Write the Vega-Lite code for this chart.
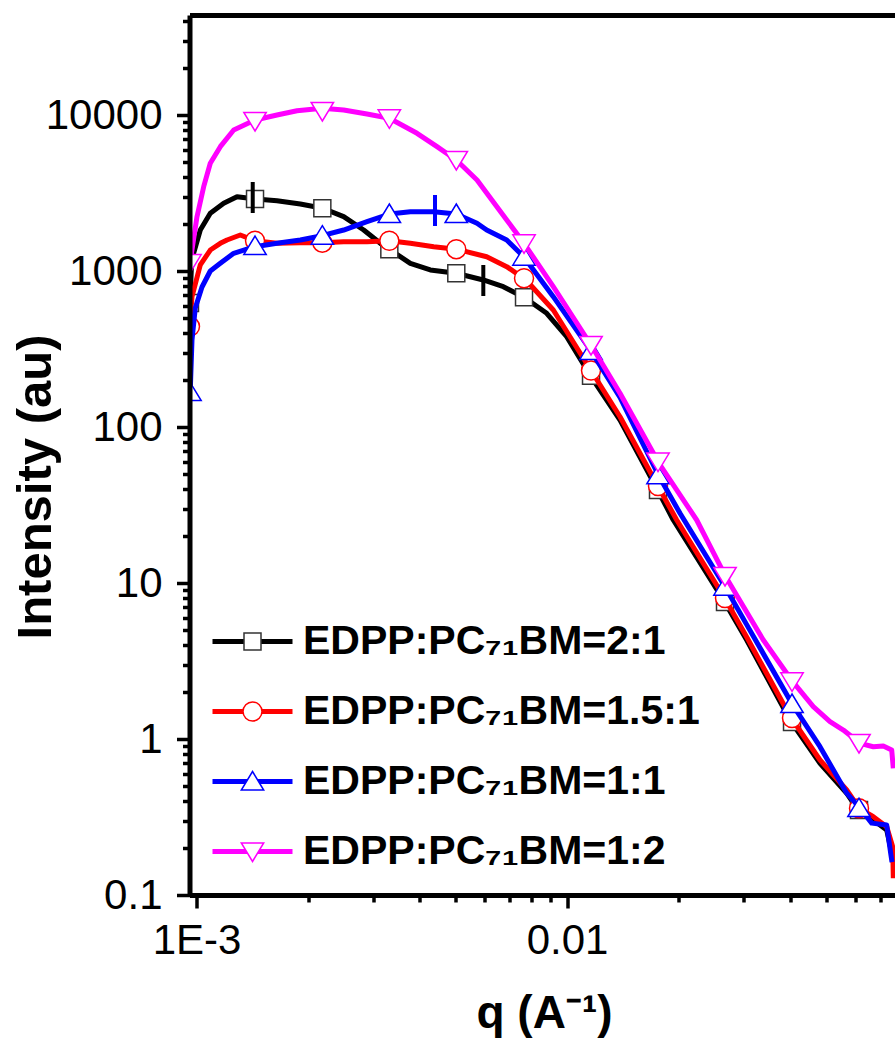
{
  "$schema": "https://vega.github.io/schema/vega-lite/v6.json",
  "width": 705.5,
  "height": 880,
  "autosize": {"type": "none"},
  "padding": {"left": 189.5, "top": 15, "right": 0, "bottom": 145},
  "background": "white",
  "config": {"view": {"stroke": null}},
  "resolve": {"axis": {"x": "independent", "y": "independent"}},
  "datasets": {
    "curves": [
      {"series": "EDPP:PC₇₁BM=2:1", "q": 0.0009598, "I": 623.6},
      {"series": "EDPP:PC₇₁BM=2:1", "q": 0.00097, "I": 1176},
      {"series": "EDPP:PC₇₁BM=2:1", "q": 0.0010233, "I": 1831},
      {"series": "EDPP:PC₇₁BM=2:1", "q": 0.0010889, "I": 2344},
      {"series": "EDPP:PC₇₁BM=2:1", "q": 0.0011836, "I": 2716},
      {"series": "EDPP:PC₇₁BM=2:1", "q": 0.0012855, "I": 2994},
      {"series": "EDPP:PC₇₁BM=2:1", "q": 0.0014441, "I": 2894},
      {"series": "EDPP:PC₇₁BM=2:1", "q": 0.0016482, "I": 2822},
      {"series": "EDPP:PC₇₁BM=2:1", "q": 0.0019051, "I": 2688},
      {"series": "EDPP:PC₇₁BM=2:1", "q": 0.0021902, "I": 2523},
      {"series": "EDPP:PC₇₁BM=2:1", "q": 0.0024945, "I": 2229},
      {"series": "EDPP:PC₇₁BM=2:1", "q": 0.002825, "I": 1831},
      {"series": "EDPP:PC₇₁BM=2:1", "q": 0.0031331, "I": 1505},
      {"series": "EDPP:PC₇₁BM=2:1", "q": 0.0033129, "I": 1378},
      {"series": "EDPP:PC₇₁BM=2:1", "q": 0.0037747, "I": 1120},
      {"series": "EDPP:PC₇₁BM=2:1", "q": 0.0042738, "I": 1015},
      {"series": "EDPP:PC₇₁BM=2:1", "q": 0.0050228, "I": 966.7},
      {"series": "EDPP:PC₇₁BM=2:1", "q": 0.005941, "I": 875.8},
      {"series": "EDPP:PC₇₁BM=2:1", "q": 0.0067283, "I": 793.1},
      {"series": "EDPP:PC₇₁BM=2:1", "q": 0.0076512, "I": 678.4},
      {"series": "EDPP:PC₇₁BM=2:1", "q": 0.00881, "I": 535.6},
      {"series": "EDPP:PC₇₁BM=2:1", "q": 0.0099752, "I": 379.2},
      {"series": "EDPP:PC₇₁BM=2:1", "q": 0.011531, "I": 215.4},
      {"series": "EDPP:PC₇₁BM=2:1", "q": 0.013895, "I": 110.9},
      {"series": "EDPP:PC₇₁BM=2:1", "q": 0.017452, "I": 40.47},
      {"series": "EDPP:PC₇₁BM=2:1", "q": 0.01935, "I": 25.34},
      {"series": "EDPP:PC₇₁BM=2:1", "q": 0.026516, "I": 7.665},
      {"series": "EDPP:PC₇₁BM=2:1", "q": 0.03053, "I": 4.311},
      {"series": "EDPP:PC₇₁BM=2:1", "q": 0.039963, "I": 1.324},
      {"series": "EDPP:PC₇₁BM=2:1", "q": 0.048145, "I": 0.6985},
      {"series": "EDPP:PC₇₁BM=2:1", "q": 0.056849, "I": 0.4486},
      {"series": "EDPP:PC₇₁BM=2:1", "q": 0.06109, "I": 0.3506},
      {"series": "EDPP:PC₇₁BM=2:1", "q": 0.067063, "I": 0.3025},
      {"series": "EDPP:PC₇₁BM=2:1", "q": 0.072884, "I": 0.261},
      {"series": "EDPP:PC₇₁BM=2:1", "q": 0.075185, "I": 0.1858},
      {"series": "EDPP:PC₇₁BM=2:1", "q": 0.075794, "I": 0.1627},

      {"series": "EDPP:PC₇₁BM=1.5:1", "q": 0.0009616, "I": 497.7},
      {"series": "EDPP:PC₇₁BM=1.5:1", "q": 0.0009718, "I": 684.4},
      {"series": "EDPP:PC₇₁BM=1.5:1", "q": 0.0009822, "I": 755.2},
      {"series": "EDPP:PC₇₁BM=1.5:1", "q": 0.0010233, "I": 1093},
      {"series": "EDPP:PC₇₁BM=1.5:1", "q": 0.0010889, "I": 1363},
      {"series": "EDPP:PC₇₁BM=1.5:1", "q": 0.0011588, "I": 1505},
      {"series": "EDPP:PC₇₁BM=1.5:1", "q": 0.0012081, "I": 1580},
      {"series": "EDPP:PC₇₁BM=1.5:1", "q": 0.0013121, "I": 1701},
      {"series": "EDPP:PC₇₁BM=1.5:1", "q": 0.0014352, "I": 1564},
      {"series": "EDPP:PC₇₁BM=1.5:1", "q": 0.0016482, "I": 1505},
      {"series": "EDPP:PC₇₁BM=1.5:1", "q": 0.0019051, "I": 1519},
      {"series": "EDPP:PC₇₁BM=1.5:1", "q": 0.0021807, "I": 1519},
      {"series": "EDPP:PC₇₁BM=1.5:1", "q": 0.0024945, "I": 1541},
      {"series": "EDPP:PC₇₁BM=1.5:1", "q": 0.0028836, "I": 1541},
      {"series": "EDPP:PC₇₁BM=1.5:1", "q": 0.0033129, "I": 1564},
      {"series": "EDPP:PC₇₁BM=1.5:1", "q": 0.0037747, "I": 1505},
      {"series": "EDPP:PC₇₁BM=1.5:1", "q": 0.0043651, "I": 1431},
      {"series": "EDPP:PC₇₁BM=1.5:1", "q": 0.0050228, "I": 1380},
      {"series": "EDPP:PC₇₁BM=1.5:1", "q": 0.0060679, "I": 1235},
      {"series": "EDPP:PC₇₁BM=1.5:1", "q": 0.0068719, "I": 1066},
      {"series": "EDPP:PC₇₁BM=1.5:1", "q": 0.0077469, "I": 875.8},
      {"series": "EDPP:PC₇₁BM=1.5:1", "q": 0.009178, "I": 562.3},
      {"series": "EDPP:PC₇₁BM=1.5:1", "q": 0.011581, "I": 231.9},
      {"series": "EDPP:PC₇₁BM=1.5:1", "q": 0.013895, "I": 116.4},
      {"series": "EDPP:PC₇₁BM=1.5:1", "q": 0.017517, "I": 42.48},
      {"series": "EDPP:PC₇₁BM=1.5:1", "q": 0.019763, "I": 25.34},
      {"series": "EDPP:PC₇₁BM=1.5:1", "q": 0.026516, "I": 8.132},
      {"series": "EDPP:PC₇₁BM=1.5:1", "q": 0.03053, "I": 4.506},
      {"series": "EDPP:PC₇₁BM=1.5:1", "q": 0.039963, "I": 1.404},
      {"series": "EDPP:PC₇₁BM=1.5:1", "q": 0.048145, "I": 0.7334},
      {"series": "EDPP:PC₇₁BM=1.5:1", "q": 0.056849, "I": 0.471},
      {"series": "EDPP:PC₇₁BM=1.5:1", "q": 0.06147, "I": 0.3595},
      {"series": "EDPP:PC₇₁BM=1.5:1", "q": 0.067063, "I": 0.3176},
      {"series": "EDPP:PC₇₁BM=1.5:1", "q": 0.072884, "I": 0.2741},
      {"series": "EDPP:PC₇₁BM=1.5:1", "q": 0.075653, "I": 0.204},
      {"series": "EDPP:PC₇₁BM=1.5:1", "q": 0.075935, "I": 0.128},

      {"series": "EDPP:PC₇₁BM=1:1", "q": 0.0009616, "I": 172.7},
      {"series": "EDPP:PC₇₁BM=1:1", "q": 0.0009718, "I": 361.1},
      {"series": "EDPP:PC₇₁BM=1:1", "q": 0.0009919, "I": 579.1},
      {"series": "EDPP:PC₇₁BM=1:1", "q": 0.0010341, "I": 789.4},
      {"series": "EDPP:PC₇₁BM=1:1", "q": 0.0010889, "I": 1000},
      {"series": "EDPP:PC₇₁BM=1:1", "q": 0.0011588, "I": 1120},
      {"series": "EDPP:PC₇₁BM=1:1", "q": 0.0012594, "I": 1299},
      {"series": "EDPP:PC₇₁BM=1:1", "q": 0.0014352, "I": 1431},
      {"series": "EDPP:PC₇₁BM=1:1", "q": 0.0016482, "I": 1505},
      {"series": "EDPP:PC₇₁BM=1:1", "q": 0.0019051, "I": 1580},
      {"series": "EDPP:PC₇₁BM=1:1", "q": 0.0021807, "I": 1684},
      {"series": "EDPP:PC₇₁BM=1:1", "q": 0.0024945, "I": 1831},
      {"series": "EDPP:PC₇₁BM=1:1", "q": 0.0028836, "I": 2070},
      {"series": "EDPP:PC₇₁BM=1:1", "q": 0.0033129, "I": 2319},
      {"series": "EDPP:PC₇₁BM=1:1", "q": 0.0037747, "I": 2399},
      {"series": "EDPP:PC₇₁BM=1:1", "q": 0.0043651, "I": 2399},
      {"series": "EDPP:PC₇₁BM=1:1", "q": 0.0050228, "I": 2319},
      {"series": "EDPP:PC₇₁BM=1:1", "q": 0.0057129, "I": 2022},
      {"series": "EDPP:PC₇₁BM=1:1", "q": 0.0060679, "I": 1831},
      {"series": "EDPP:PC₇₁BM=1:1", "q": 0.0068719, "I": 1580},
      {"series": "EDPP:PC₇₁BM=1:1", "q": 0.007637, "I": 1235},
      {"series": "EDPP:PC₇₁BM=1:1", "q": 0.009178, "I": 684.4},
      {"series": "EDPP:PC₇₁BM=1:1", "q": 0.011603, "I": 307.4},
      {"series": "EDPP:PC₇₁BM=1:1", "q": 0.013895, "I": 154.6},
      {"series": "EDPP:PC₇₁BM=1:1", "q": 0.017626, "I": 49.24},
      {"series": "EDPP:PC₇₁BM=1:1", "q": 0.020172, "I": 27.98},
      {"series": "EDPP:PC₇₁BM=1:1", "q": 0.026681, "I": 9.469},
      {"series": "EDPP:PC₇₁BM=1:1", "q": 0.03053, "I": 5.41},
      {"series": "EDPP:PC₇₁BM=1:1", "q": 0.040639, "I": 1.652},
      {"series": "EDPP:PC₇₁BM=1:1", "q": 0.048145, "I": 0.8925},
      {"series": "EDPP:PC₇₁BM=1:1", "q": 0.056849, "I": 0.4498},
      {"series": "EDPP:PC₇₁BM=1:1", "q": 0.061738, "I": 0.3606},
      {"series": "EDPP:PC₇₁BM=1:1", "q": 0.0664, "I": 0.2889},
      {"series": "EDPP:PC₇₁BM=1:1", "q": 0.072884, "I": 0.281},
      {"series": "EDPP:PC₇₁BM=1:1", "q": 0.07472, "I": 0.185},
      {"series": "EDPP:PC₇₁BM=1:1", "q": 0.075325, "I": 0.1627},

      {"series": "EDPP:PC₇₁BM=1:2", "q": 0.0009598, "I": 1125},
      {"series": "EDPP:PC₇₁BM=1:2", "q": 0.0010025, "I": 2229},
      {"series": "EDPP:PC₇₁BM=1:2", "q": 0.0010451, "I": 3471},
      {"series": "EDPP:PC₇₁BM=1:2", "q": 0.0010889, "I": 4902},
      {"series": "EDPP:PC₇₁BM=1:2", "q": 0.0011588, "I": 6265},
      {"series": "EDPP:PC₇₁BM=1:2", "q": 0.0012594, "I": 8012},
      {"series": "EDPP:PC₇₁BM=1:2", "q": 0.0014379, "I": 9289},
      {"series": "EDPP:PC₇₁BM=1:2", "q": 0.0016482, "I": 10000},
      {"series": "EDPP:PC₇₁BM=1:2", "q": 0.0018664, "I": 10655},
      {"series": "EDPP:PC₇₁BM=1:2", "q": 0.0021848, "I": 11040},
      {"series": "EDPP:PC₇₁BM=1:2", "q": 0.0024945, "I": 10766},
      {"series": "EDPP:PC₇₁BM=1:2", "q": 0.0028836, "I": 10149},
      {"series": "EDPP:PC₇₁BM=1:2", "q": 0.0033129, "I": 9524},
      {"series": "EDPP:PC₇₁BM=1:2", "q": 0.0039352, "I": 7633},
      {"series": "EDPP:PC₇₁BM=1:2", "q": 0.0044555, "I": 6265},
      {"series": "EDPP:PC₇₁BM=1:2", "q": 0.0050228, "I": 5146},
      {"series": "EDPP:PC₇₁BM=1:2", "q": 0.0057129, "I": 3831},
      {"series": "EDPP:PC₇₁BM=1:2", "q": 0.0068719, "I": 2123},
      {"series": "EDPP:PC₇₁BM=1:2", "q": 0.0076512, "I": 1505},
      {"series": "EDPP:PC₇₁BM=1:2", "q": 0.009178, "I": 793.1},
      {"series": "EDPP:PC₇₁BM=1:2", "q": 0.011603, "I": 335.5},
      {"series": "EDPP:PC₇₁BM=1:2", "q": 0.013895, "I": 164.4},
      {"series": "EDPP:PC₇₁BM=1:2", "q": 0.017703, "I": 58.54},
      {"series": "EDPP:PC₇₁BM=1:2", "q": 0.022375, "I": 25.34},
      {"series": "EDPP:PC₇₁BM=1:2", "q": 0.026798, "I": 10.97},
      {"series": "EDPP:PC₇₁BM=1:2", "q": 0.033848, "I": 4.311},
      {"series": "EDPP:PC₇₁BM=1:2", "q": 0.040639, "I": 2.33},
      {"series": "EDPP:PC₇₁BM=1:2", "q": 0.046183, "I": 1.611},
      {"series": "EDPP:PC₇₁BM=1:2", "q": 0.051232, "I": 1.291},
      {"series": "EDPP:PC₇₁BM=1:2", "q": 0.05566, "I": 1.142},
      {"series": "EDPP:PC₇₁BM=1:2", "q": 0.061738, "I": 0.9384},
      {"series": "EDPP:PC₇₁BM=1:2", "q": 0.067063, "I": 0.8925},
      {"series": "EDPP:PC₇₁BM=1:2", "q": 0.07136, "I": 0.9018},
      {"series": "EDPP:PC₇₁BM=1:2", "q": 0.075185, "I": 0.85},
      {"series": "EDPP:PC₇₁BM=1:2", "q": 0.075935, "I": 0.649}
    ],
    "markers": [
      {"ratio": "2:1", "q": 0.0009598, "I": 623.6},
      {"ratio": "2:1", "q": 0.0014379, "I": 2894},
      {"ratio": "2:1", "q": 0.0021848, "I": 2523},
      {"ratio": "2:1", "q": 0.0033129, "I": 1378},
      {"ratio": "2:1", "q": 0.0050228, "I": 966.7},
      {"ratio": "2:1", "q": 0.0076512, "I": 678.4},
      {"ratio": "2:1", "q": 0.011603, "I": 213},
      {"ratio": "2:1", "q": 0.017593, "I": 39.5},
      {"ratio": "2:1", "q": 0.026681, "I": 7.55},
      {"ratio": "2:1", "q": 0.040463, "I": 1.285},
      {"ratio": "2:1", "q": 0.061356, "I": 0.3506},
      {"ratio": "1.5:1", "q": 0.0009598, "I": 440},
      {"ratio": "1.5:1", "q": 0.0014379, "I": 1564},
      {"ratio": "1.5:1", "q": 0.0021848, "I": 1519},
      {"ratio": "1.5:1", "q": 0.0033129, "I": 1564},
      {"ratio": "1.5:1", "q": 0.0050228, "I": 1380},
      {"ratio": "1.5:1", "q": 0.0076512, "I": 900},
      {"ratio": "1.5:1", "q": 0.011603, "I": 230},
      {"ratio": "1.5:1", "q": 0.017593, "I": 41.86},
      {"ratio": "1.5:1", "q": 0.026681, "I": 8.01},
      {"ratio": "1.5:1", "q": 0.040463, "I": 1.363},
      {"ratio": "1.5:1", "q": 0.061356, "I": 0.3595},
      {"ratio": "1:1", "q": 0.0009598, "I": 167.6},
      {"ratio": "1:1", "q": 0.0014379, "I": 1446},
      {"ratio": "1:1", "q": 0.0021848, "I": 1684},
      {"ratio": "1:1", "q": 0.0033129, "I": 2319},
      {"ratio": "1:1", "q": 0.0050228, "I": 2319},
      {"ratio": "1:1", "q": 0.0076512, "I": 1235},
      {"ratio": "1:1", "q": 0.011603, "I": 307.4},
      {"ratio": "1:1", "q": 0.017593, "I": 49},
      {"ratio": "1:1", "q": 0.026681, "I": 9.469},
      {"ratio": "1:1", "q": 0.040463, "I": 1.676},
      {"ratio": "1:1", "q": 0.061356, "I": 0.3606},
      {"ratio": "1:2", "q": 0.0009598, "I": 1125},
      {"ratio": "1:2", "q": 0.0014379, "I": 9153},
      {"ratio": "1:2", "q": 0.0021848, "I": 10608},
      {"ratio": "1:2", "q": 0.0033129, "I": 9524},
      {"ratio": "1:2", "q": 0.0050228, "I": 5146},
      {"ratio": "1:2", "q": 0.0076512, "I": 1505},
      {"ratio": "1:2", "q": 0.011603, "I": 335.5},
      {"ratio": "1:2", "q": 0.017593, "I": 60},
      {"ratio": "1:2", "q": 0.026681, "I": 11.09},
      {"ratio": "1:2", "q": 0.040463, "I": 2.344},
      {"ratio": "1:2", "q": 0.061356, "I": 0.9427}
    ],
    "bars": [
      {"ratio": "2:1", "q": 0.0014175, "lo": 2354, "hi": 3720},
      {"ratio": "2:1", "q": 0.005941, "lo": 691.4, "hi": 1093},
      {"ratio": "1:1", "q": 0.0044004, "lo": 1943, "hi": 3070}
    ]
  },
  "encoding": {
    "x": {"field": "q", "type": "quantitative", "scale": {"type": "log", "domain": [0.0009569, 0.07674], "nice": false}, "axis": null},
    "y": {"field": "I", "type": "quantitative", "scale": {"type": "log", "domain": [0.1, 43755], "nice": false}, "axis": null}
  },
  "layer": [
    {
      "data": {"name": "curves"},
      "transform": [{"filter": {"field": "series", "equal": "EDPP:PC₇₁BM=2:1"}}],
      "mark": {"type": "line", "strokeWidth": 5, "strokeJoin": "round", "clip": true},
      "encoding": {
        "x": {"field": "q", "type": "quantitative", "scale": {"type": "log", "domain": [0.0009569, 0.07674], "nice": false},
          "axis": {"orient": "bottom", "zindex": 2, "grid": false,
            "values": [0.001, 0.01],
            "labelExpr": "datum.value < 0.005 ? '1E-3' : '0.01'",
            "tickSize": 13, "tickWidth": 3.5, "tickColor": "black", "domainColor": "black", "domainWidth": 5,
            "labelFont": "Liberation Sans", "labelFontSize": 42, "labelColor": "black", "labelPadding": 12, "labelFlush": false, "labelOverlap": false,
            "title": "q (A⁻¹)", "titleFont": "Liberation Sans", "titleFontSize": 46, "titleFontWeight": "bold", "titleColor": "black",
            "titleBaseline": "alphabetic", "titleY": 132, "titleX": 354.5}},
        "y": {"field": "I", "type": "quantitative", "scale": {"type": "log", "domain": [0.1, 43755], "nice": false},
          "axis": {"orient": "left", "zindex": 2, "grid": false,
            "values": [0.1, 1, 10, 100, 1000, 10000],
            "labelExpr": "format(datum.value, '~g')",
            "tickSize": 13, "tickWidth": 3.5, "tickColor": "black", "domainColor": "black", "domainWidth": 5,
            "labelFont": "Liberation Sans", "labelFontSize": 42, "labelColor": "black", "labelPadding": 14.5, "labelOverlap": false, "labelFlush": false,
            "title": "Intensity (au)", "titleFont": "Liberation Sans", "titleFontSize": 49, "titleFontWeight": "bold", "titleColor": "black",
            "titleAngle": -90, "titleBaseline": "alphabetic", "titleAlign": "center", "titleX": -139.5, "titleY": 471.5}},
        "color": {"field": "series", "type": "nominal",
          "scale": {"domain": ["EDPP:PC₇₁BM=2:1", "EDPP:PC₇₁BM=1.5:1", "EDPP:PC₇₁BM=1:1", "EDPP:PC₇₁BM=1:2"], "range": ["#000000", "#ff0000", "#0000ff", "#ff00ff"]},
          "legend": {"orient": "none", "legendX": 42.5, "legendY": 606, "title": null, "padding": 0,
            "symbolType": "M-4,0H4", "symbolSize": 400, "symbolStrokeWidth": 5, "symbolOffset": 0, "labelOffset": 30,
            "labelFont": "Liberation Sans", "labelFontSize": 41, "labelFontWeight": "bold", "labelColor": "black", "labelLimit": 700,
            "rowPadding": 28, "labelBaseline": "middle"}}
      }
    },
    {
      "data": {"name": "markers"},
      "transform": [{"filter": {"field": "ratio", "equal": "2:1"}}],
      "mark": {"type": "point", "filled": true, "fill": "white", "strokeWidth": 1.5, "size": 400, "opacity": 1, "clip": true},
      "encoding": {
        "x": {"field": "q", "type": "quantitative", "scale": {"type": "log", "domain": [0.0009569, 0.07674], "nice": false},
          "axis": {"orient": "bottom", "zindex": 2, "grid": false, "domain": false, "labels": false, "title": null,
            "values": [0.002, 0.003, 0.004, 0.005, 0.006, 0.007, 0.008, 0.009, 0.02, 0.03, 0.04, 0.05, 0.06, 0.07],
            "tickSize": 7, "tickWidth": 3.5, "tickColor": "black"}},
        "y": {"field": "I", "type": "quantitative", "scale": {"type": "log", "domain": [0.1, 43755], "nice": false},
          "axis": {"orient": "left", "zindex": 2, "grid": false, "domain": false, "labels": false, "title": null,
            "values": [0.2, 0.3, 0.4, 0.5, 0.6, 0.7, 0.8, 0.9, 2, 3, 4, 5, 6, 7, 8, 9, 20, 30, 40, 50, 60, 70, 80, 90, 200, 300, 400, 500, 600, 700, 800, 900, 2000, 3000, 4000, 5000, 6000, 7000, 8000, 9000, 20000, 30000, 40000],
            "tickSize": 7, "tickWidth": 3.5, "tickColor": "black"}},
        "shape": {"field": "ratio", "type": "nominal",
          "scale": {"domain": ["2:1", "1.5:1", "1:1", "1:2"], "range": ["M-0.85,-0.85L0.85,-0.85L0.85,0.85L-0.85,0.85Z", "M-0.95,0A0.95,0.95,0,1,0,0.95,0A0.95,0.95,0,1,0,-0.95,0Z", "M0,-1L1.12,0.85L-1.12,0.85Z", "M0,1L1.12,-0.85L-1.12,-0.85Z"]},
          "legend": {"orient": "none", "legendX": 42.5, "legendY": 606, "title": null, "padding": 0,
            "symbolSize": 400, "symbolStrokeWidth": 1.5, "symbolFillColor": "white", "symbolOpacity": 1, "symbolOffset": 0, "labelOffset": 30,
            "labelExpr": "'EDPP:PC₇₁BM=' + datum.label",
            "labelFont": "Liberation Sans", "labelFontSize": 41, "labelFontWeight": "bold", "labelColor": "transparent", "labelLimit": 700,
            "rowPadding": 28, "labelBaseline": "middle"}},
        "stroke": {"field": "ratio", "type": "nominal",
          "scale": {"domain": ["2:1", "1.5:1", "1:1", "1:2"], "range": ["#333333", "#ff0000", "#0000ff", "#ff00ff"]},
          "legend": {"orient": "none", "legendX": 42.5, "legendY": 606, "title": null, "padding": 0,
            "symbolSize": 400, "symbolStrokeWidth": 1.5, "symbolFillColor": "white", "symbolOpacity": 1, "symbolOffset": 0, "labelOffset": 30,
            "labelExpr": "'EDPP:PC₇₁BM=' + datum.label",
            "labelFont": "Liberation Sans", "labelFontSize": 41, "labelFontWeight": "bold", "labelColor": "transparent", "labelLimit": 700,
            "rowPadding": 28, "labelBaseline": "middle"}}
      }
    },
    {
      "data": {"name": "bars"},
      "transform": [{"filter": {"field": "ratio", "equal": "2:1"}}],
      "mark": {"type": "rule", "color": "black", "strokeWidth": 4, "clip": true},
      "encoding": {
        "x": {"field": "q", "type": "quantitative", "scale": {"type": "log", "domain": [0.0009569, 0.07674], "nice": false},
          "axis": {"orient": "top", "ticks": false, "labels": false, "title": null, "grid": false, "domainColor": "black", "domainWidth": 5, "zindex": 2}},
        "y": {"field": "lo", "type": "quantitative", "scale": {"type": "log", "domain": [0.1, 43755], "nice": false}, "axis": null},
        "y2": {"field": "hi"}
      }
    },
    {
      "data": {"name": "curves"},
      "transform": [{"filter": {"field": "series", "equal": "EDPP:PC₇₁BM=1.5:1"}}],
      "mark": {"type": "line", "strokeWidth": 5, "strokeJoin": "round", "clip": true},
      "encoding": {
        "color": {"field": "series", "type": "nominal",
          "scale": {"domain": ["EDPP:PC₇₁BM=2:1", "EDPP:PC₇₁BM=1.5:1", "EDPP:PC₇₁BM=1:1", "EDPP:PC₇₁BM=1:2"], "range": ["#000000", "#ff0000", "#0000ff", "#ff00ff"]}}
      }
    },
    {
      "data": {"name": "markers"},
      "transform": [{"filter": {"field": "ratio", "equal": "1.5:1"}}],
      "mark": {"type": "point", "filled": true, "fill": "white", "strokeWidth": 1.5, "size": 400, "opacity": 1, "clip": true},
      "encoding": {
        "shape": {"field": "ratio", "type": "nominal",
          "scale": {"domain": ["2:1", "1.5:1", "1:1", "1:2"], "range": ["M-0.85,-0.85L0.85,-0.85L0.85,0.85L-0.85,0.85Z", "M-0.95,0A0.95,0.95,0,1,0,0.95,0A0.95,0.95,0,1,0,-0.95,0Z", "M0,-1L1.12,0.85L-1.12,0.85Z", "M0,1L1.12,-0.85L-1.12,-0.85Z"]}},
        "stroke": {"field": "ratio", "type": "nominal",
          "scale": {"domain": ["2:1", "1.5:1", "1:1", "1:2"], "range": ["#333333", "#ff0000", "#0000ff", "#ff00ff"]}}
      }
    },
    {
      "data": {"name": "curves"},
      "transform": [{"filter": {"field": "series", "equal": "EDPP:PC₇₁BM=1:1"}}],
      "mark": {"type": "line", "strokeWidth": 5, "strokeJoin": "round", "clip": true},
      "encoding": {
        "color": {"field": "series", "type": "nominal",
          "scale": {"domain": ["EDPP:PC₇₁BM=2:1", "EDPP:PC₇₁BM=1.5:1", "EDPP:PC₇₁BM=1:1", "EDPP:PC₇₁BM=1:2"], "range": ["#000000", "#ff0000", "#0000ff", "#ff00ff"]}}
      }
    },
    {
      "data": {"name": "markers"},
      "transform": [{"filter": {"field": "ratio", "equal": "1:1"}}],
      "mark": {"type": "point", "filled": true, "fill": "white", "strokeWidth": 1.5, "size": 400, "opacity": 1, "clip": true},
      "encoding": {
        "shape": {"field": "ratio", "type": "nominal",
          "scale": {"domain": ["2:1", "1.5:1", "1:1", "1:2"], "range": ["M-0.85,-0.85L0.85,-0.85L0.85,0.85L-0.85,0.85Z", "M-0.95,0A0.95,0.95,0,1,0,0.95,0A0.95,0.95,0,1,0,-0.95,0Z", "M0,-1L1.12,0.85L-1.12,0.85Z", "M0,1L1.12,-0.85L-1.12,-0.85Z"]}},
        "stroke": {"field": "ratio", "type": "nominal",
          "scale": {"domain": ["2:1", "1.5:1", "1:1", "1:2"], "range": ["#333333", "#ff0000", "#0000ff", "#ff00ff"]}}
      }
    },
    {
      "data": {"name": "bars"},
      "transform": [{"filter": {"field": "ratio", "equal": "1:1"}}],
      "mark": {"type": "rule", "color": "#0000ff", "strokeWidth": 4, "clip": true},
      "encoding": {
        "y": {"field": "lo", "type": "quantitative", "scale": {"type": "log", "domain": [0.1, 43755], "nice": false}, "axis": null},
        "y2": {"field": "hi"}
      }
    },
    {
      "data": {"name": "curves"},
      "transform": [{"filter": {"field": "series", "equal": "EDPP:PC₇₁BM=1:2"}}],
      "mark": {"type": "line", "strokeWidth": 5, "strokeJoin": "round", "clip": true},
      "encoding": {
        "color": {"field": "series", "type": "nominal",
          "scale": {"domain": ["EDPP:PC₇₁BM=2:1", "EDPP:PC₇₁BM=1.5:1", "EDPP:PC₇₁BM=1:1", "EDPP:PC₇₁BM=1:2"], "range": ["#000000", "#ff0000", "#0000ff", "#ff00ff"]}}
      }
    },
    {
      "data": {"name": "markers"},
      "transform": [{"filter": {"field": "ratio", "equal": "1:2"}}],
      "mark": {"type": "point", "filled": true, "fill": "white", "strokeWidth": 1.5, "size": 400, "opacity": 1, "clip": true},
      "encoding": {
        "shape": {"field": "ratio", "type": "nominal",
          "scale": {"domain": ["2:1", "1.5:1", "1:1", "1:2"], "range": ["M-0.85,-0.85L0.85,-0.85L0.85,0.85L-0.85,0.85Z", "M-0.95,0A0.95,0.95,0,1,0,0.95,0A0.95,0.95,0,1,0,-0.95,0Z", "M0,-1L1.12,0.85L-1.12,0.85Z", "M0,1L1.12,-0.85L-1.12,-0.85Z"]}},
        "stroke": {"field": "ratio", "type": "nominal",
          "scale": {"domain": ["2:1", "1.5:1", "1:1", "1:2"], "range": ["#333333", "#ff0000", "#0000ff", "#ff00ff"]}}
      }
    }
  ]
}
